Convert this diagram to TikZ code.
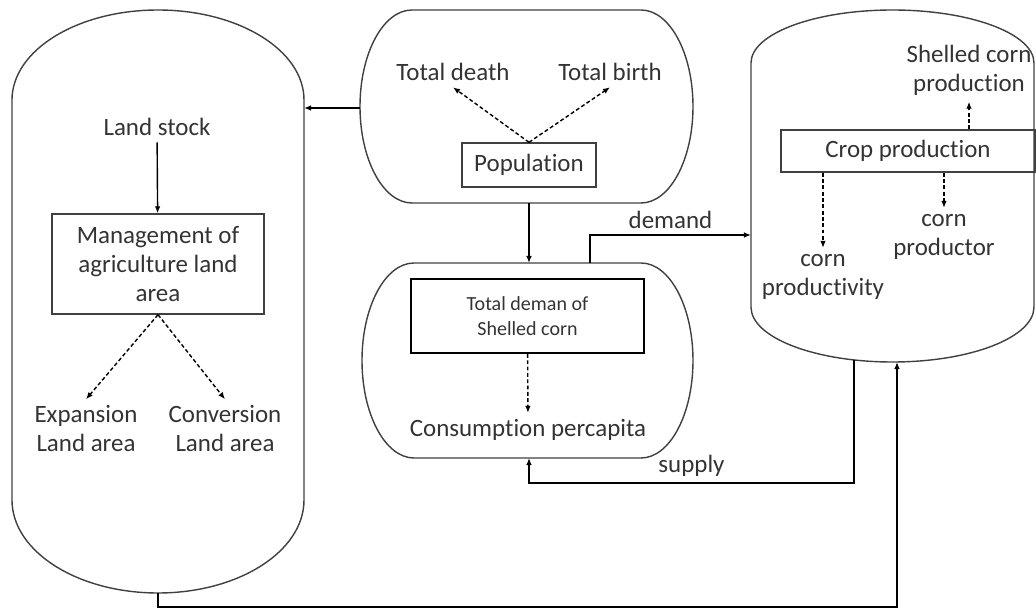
\documentclass[tikz,border=0pt]{standalone}
\usepackage{fontspec}
\setmainfont{Carlito}[Ligatures={NoCommon,NoContextual}]
\usetikzlibrary{arrows.meta,calc}

\begin{document}
\begin{tikzpicture}[>={Latex[length=4pt,width=3.2pt]},line width=0.8pt,x=0.02cm,y=0.02cm,
    font=\fontsize{14.2pt}{16.5pt}\selectfont,
    every node/.style={text=black!80},
    container/.style={draw=black!75},
    box/.style={draw=black!75,align=center},
    txt/.style={align=center},
    dashedarrow/.style={->,dash pattern=on 2.2pt off 1.4pt}]
  \useasboundingbox (0,0) rectangle (1036,609);
  % the four containers
  \draw[container] (12,509) arc[start angle=180,end angle=0,x radius=146,y radius=90]
    -- (304,109) arc[start angle=0,end angle=-180,x radius=146,y radius=93] -- cycle;
  \draw[container] (412,599) -- (641,599) arc[start angle=90,end angle=-90,x radius=52,y radius=96.5]
    -- (412,406) arc[start angle=270,end angle=90,x radius=52,y radius=96.5] -- cycle;
  \draw[container] (414,346) -- (641,346) arc[start angle=90,end angle=-90,x radius=52,y radius=97.5]
    -- (414,151) arc[start angle=270,end angle=90,x radius=52,y radius=97.5] -- cycle;
  \draw[container] (751,546) arc[start angle=180,end angle=0,x radius=141.5,y radius=53]
    -- (1034,302) arc[start angle=0,end angle=-180,x radius=141.5,y radius=55] -- cycle;
  \coordinate (popL) at (360,501);
  \coordinate (landR) at (304,501);
  \coordinate (popB) at (529,406);
  \coordinate (consT) at (529,346);
  \coordinate (demS) at (590,346);
  \coordinate (cropL) at (751,374);
  \coordinate (cropB1) at (854,249);
  \coordinate (supC) at (529,126);
  \coordinate (consB) at (529,151);
  \coordinate (landB) at (158,16);
  \coordinate (botC) at (158,2);
  \coordinate (cropB2) at (897,247);
  % land
  \node (stock) at (157,482) {Land stock};
  \node[box,minimum width=4.24cm,minimum height=2cm] (manage) at (158,345) {Management of\\agriculture land\\area};
  \node[txt] (expand) at (86,180) {Expansion\\Land area};
  \node[txt] (convert) at (225,180) {Conversion\\Land area};
  % population
  \node[box,minimum width=2.68cm,minimum height=0.88cm] (pop) at (529,444) {Population};
  \node (death) at (453,537) {Total death};
  \node (birth) at (610,537) {Total birth};
  % consumption
  \node[box,draw=black,line width=1.1pt,minimum width=4.66cm,minimum height=1.48cm,
    font=\fontsize{11.4pt}{14.2pt}\selectfont] (demand) at (527.5,293) {Total deman of\\Shelled corn};
  \node (percap) at (528,179) {Consumption percapita};
  % crop
  \node[box,minimum width=5.08cm,minimum height=0.84cm] (crop) at (908,458) {Crop production};
  \node[txt] (shelled) at (969,539) {Shelled corn\\production};
  \node[txt] (prodvty) at (823,332) {corn\\productivity};
  \node[txt] (prodtor) at (944,372) {corn\\productor};

  \draw[->] (stock) -- (manage);
  \draw[dashedarrow] (manage.south) -- (expand.north);
  \draw[dashedarrow] (manage.south) -- (convert.north);
  \draw[dashedarrow] (pop.north) -- (death.south);
  \draw[dashedarrow] (pop.north) -- (birth.south);
  \draw[->] (popL) -- (landR);
  \draw[->] (popB) -- (consT);
  \draw[dashedarrow] (demand) -- (percap);
  \draw[->] (demS) |- (cropL) node[pos=0.75,above] {demand};
  \draw[->] (cropB1) |- (supC) node[pos=0.75,above] {supply} -- (consB);
  \draw[->] (landB) -- (botC) -| (cropB2);
  \draw[dashedarrow] (crop.north -| shelled) -- (shelled.south);
  \draw[dashedarrow] (crop.south -| prodvty) -- (prodvty.north);
  \draw[dashedarrow] (crop.south -| prodtor) -- (prodtor.north);
\end{tikzpicture}
\end{document}
